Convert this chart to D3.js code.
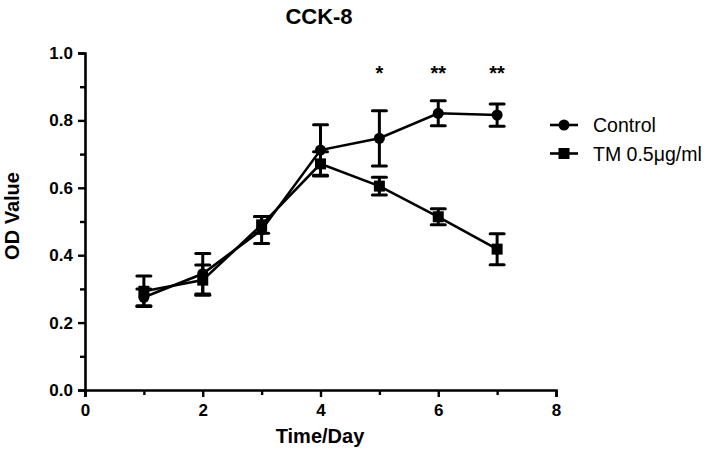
<!DOCTYPE html>
<html>
<head>
<meta charset="utf-8">
<script src="https://cdn.jsdelivr.net/npm/d3@7"></script>
<style>
  html, body { margin: 0; padding: 0; background: #fff; }
  svg { display: block; font-family: "Liberation Sans", Arial, sans-serif; }
</style>
</head>
<body>
<svg id="chart" width="709" height="452"></svg>
<script>
const days = [1, 2, 3, 4, 5, 6, 7];
const controlMean = [0.275, 0.345, 0.475, 0.712, 0.747, 0.821, 0.816];
const controlErr  = [0.025, 0.060, 0.040, 0.075, 0.082, 0.037, 0.033];
const tmMean = [0.293, 0.326, 0.490, 0.671, 0.605, 0.514, 0.418];
const tmErr  = [0.045, 0.045, 0.025, 0.036, 0.026, 0.024, 0.046];
const sigDays = [5, 6, 7];
const sigLabels = ["*", "**", "**"];
const xTicks = [0, 2, 4, 6, 8];
const yTicks = [0.0, 0.2, 0.4, 0.6, 0.8, 1.0];
const seriesNames = ["Control", "TM 0.5\u03bcg/ml"];

const svg = d3.select("#chart");
const x = d3.scaleLinear().domain([0, 8]).range([85, 556]);
const y = d3.scaleLinear().domain([0, 1]).range([390, 53]);

// Axes
const xAxis = svg.append("g").attr("transform", "translate(0,390)")
  .call(d3.axisBottom(x).tickValues(d3.range(0, 9, 1)).tickSize(7).tickFormat(d => xTicks.includes(d) ? d : ""));
const yAxis = svg.append("g").attr("transform", "translate(85,0)")
  .call(d3.axisLeft(y).tickValues(d3.range(0, 1.01, 0.1)).tickSize(7)
    .tickFormat(d => yTicks.some(t => Math.abs(t - d) < 1e-6) ? d3.format(".1f")(d) : ""));
[xAxis, yAxis].forEach(g => {
  g.select(".domain").attr("stroke", "#000").attr("stroke-width", 2.6);
  g.selectAll(".tick line").attr("stroke", "#000").attr("stroke-width", 2.4);
  g.selectAll(".tick text").attr("fill", "#000").attr("font-size", 17).attr("font-weight", "bold");
});
xAxis.selectAll(".tick text").attr("dy", "0.71em").attr("y", 14);
yAxis.selectAll(".tick text").attr("x", -12);
// minor ticks shorter
yAxis.selectAll(".tick").filter(d => !yTicks.some(t => Math.abs(t - d) < 1e-6)).select("line").attr("x2", -5);
xAxis.selectAll(".tick").filter(d => !xTicks.includes(d)).select("line").attr("y2", 5);

// Title & axis labels
svg.append("text").attr("x", 319).attr("y", 24).attr("text-anchor", "middle")
  .attr("font-size", 22).attr("font-weight", "bold").text("CCK-8");
svg.append("text").attr("x", 320).attr("y", 443).attr("text-anchor", "middle")
  .attr("font-size", 20).attr("font-weight", "bold").text("Time/Day");
svg.append("text").attr("transform", "translate(18.5,216) rotate(-90)").attr("text-anchor", "middle")
  .attr("font-size", 20).attr("font-weight", "bold").text("OD Value");

const series = [
  { name: seriesNames[0], mean: controlMean, err: controlErr, shape: "circle" },
  { name: seriesNames[1], mean: tmMean, err: tmErr, shape: "square" }
];

const line = d3.line().x(d => x(d[0])).y(d => y(d[1]));

series.forEach(s => {
  const pts = days.map((d, i) => [d, s.mean[i], s.err[i]]);
  const g = svg.append("g");
  g.append("path").attr("d", line(pts)).attr("fill", "none").attr("stroke", "#000").attr("stroke-width", 2.6);
  // error bars
  pts.forEach(p => {
    const cx = x(p[0]);
    g.append("line").attr("x1", cx).attr("x2", cx).attr("y1", y(p[1] - p[2])).attr("y2", y(p[1] + p[2]))
      .attr("stroke", "#000").attr("stroke-width", 3);
    [p[1] - p[2], p[1] + p[2]].forEach(v => {
      g.append("line").attr("x1", cx - 7).attr("x2", cx + 7).attr("y1", y(v)).attr("y2", y(v))
        .attr("stroke", "#000").attr("stroke-width", 3).attr("stroke-linecap", "round");
    });
  });
  pts.forEach(p => {
    if (s.shape === "circle") {
      g.append("circle").attr("cx", x(p[0])).attr("cy", y(p[1])).attr("r", 5.5).attr("fill", "#000");
    } else {
      g.append("rect").attr("x", x(p[0]) - 5.5).attr("y", y(p[1]) - 5.5).attr("width", 11).attr("height", 11).attr("fill", "#000");
    }
  });
});

// significance stars
sigDays.forEach((d, i) => {
  svg.append("text").attr("x", x(d)).attr("y", 80).attr("text-anchor", "middle")
    .attr("font-size", 20).attr("font-weight", "bold").text(sigLabels[i]);
});

// legend
series.forEach((s, i) => {
  const ly = 125 + i * 28.5;
  const lg = svg.append("g");
  lg.append("line").attr("x1", 550).attr("x2", 578).attr("y1", ly).attr("y2", ly).attr("stroke", "#000").attr("stroke-width", 2.6);
  if (s.shape === "circle") lg.append("circle").attr("cx", 564).attr("cy", ly).attr("r", 5.5).attr("fill", "#000");
  else lg.append("rect").attr("x", 558.5).attr("y", ly - 5.5).attr("width", 11).attr("height", 11).attr("fill", "#000");
  lg.append("text").attr("x", 593).attr("y", ly).attr("dy", "0.36em").attr("font-size", 19.5).text(s.name);
});
</script>
</body>
</html>
